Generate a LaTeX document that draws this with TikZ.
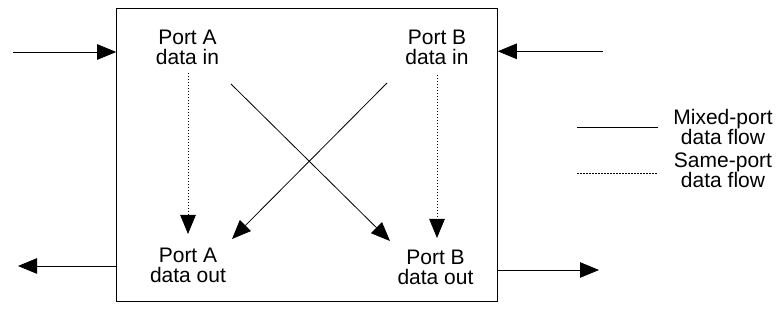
\documentclass[tikz,border=0pt]{standalone}
\usepackage{fontspec}
\setmainfont{Liberation Sans}
\usetikzlibrary{arrows.meta}
\begin{document}
\begin{tikzpicture}[x=1pt,y=-1pt,
  lbl/.style={align=center,inner sep=0pt,anchor=base,font=\fontsize{21}{20.5}\selectfont},
  flow/.style={line width=0.8pt,-{Triangle[length=19pt,width=15.5pt]}},
  sameport/.style={flow,dash pattern=on 1.5pt off 1.5pt},
  legline/.style={line width=0.8pt}]
\useasboundingbox (0,0) rectangle (780,320);
\node[draw,line width=1pt,minimum width=380.6pt,minimum height=293.7pt,inner sep=0pt] (box) at (307,155) {};
\node[lbl] (ain) at (187.5,65) {Port A\\data in};
\node[lbl] (bin) at (437,65) {Port B\\data in};
\node[lbl] (aout) at (188,283) {Port A\\data out};
\node[lbl] (bout) at (435.5,285) {Port B\\data out};
\node[lbl] (lmix) at (723,145) {Mixed-port\\data flow};
\node[lbl] (lsame) at (723,188) {Same-port\\data flow};
% external connectors
\coordinate (extAin) at (13,52);
\coordinate (extBin) at (603,51.3);
\coordinate (extAout) at (18,266);
\coordinate (extBout) at (599,270);
\draw[flow] (extAin) -- (box.west |- extAin);
\draw[flow] (extBin) -- (box.east |- extBin);
\draw[flow] (box.west |- extAout) -- (extAout);
\draw[flow] (box.east |- extBout) -- (extBout);
% internal flows
\coordinate (a1) at (188,73);
\coordinate (a2) at (188,234);
\coordinate (b1) at (437,75);
\coordinate (b2) at (437,238);
\draw[sameport] (a1) -- (a2);
\draw[sameport] (b1) -- (b2);
\coordinate (x1) at (231,84);
\coordinate (x2) at (390,241);
\coordinate (y1) at (387,83);
\coordinate (y2) at (232,239);
\draw[flow] (x1) -- (x2);
\draw[flow] (y1) -- (y2);
% legend
\coordinate (m1) at (577,127);
\coordinate (m2) at (658,127);
\coordinate (s1) at (577,173);
\coordinate (s2) at (658,173);
\draw[legline] (m1) -- (m2);
\draw[legline,dash pattern=on 1.5pt off 1.5pt] (s1) -- (s2);
\end{tikzpicture}
\end{document}
